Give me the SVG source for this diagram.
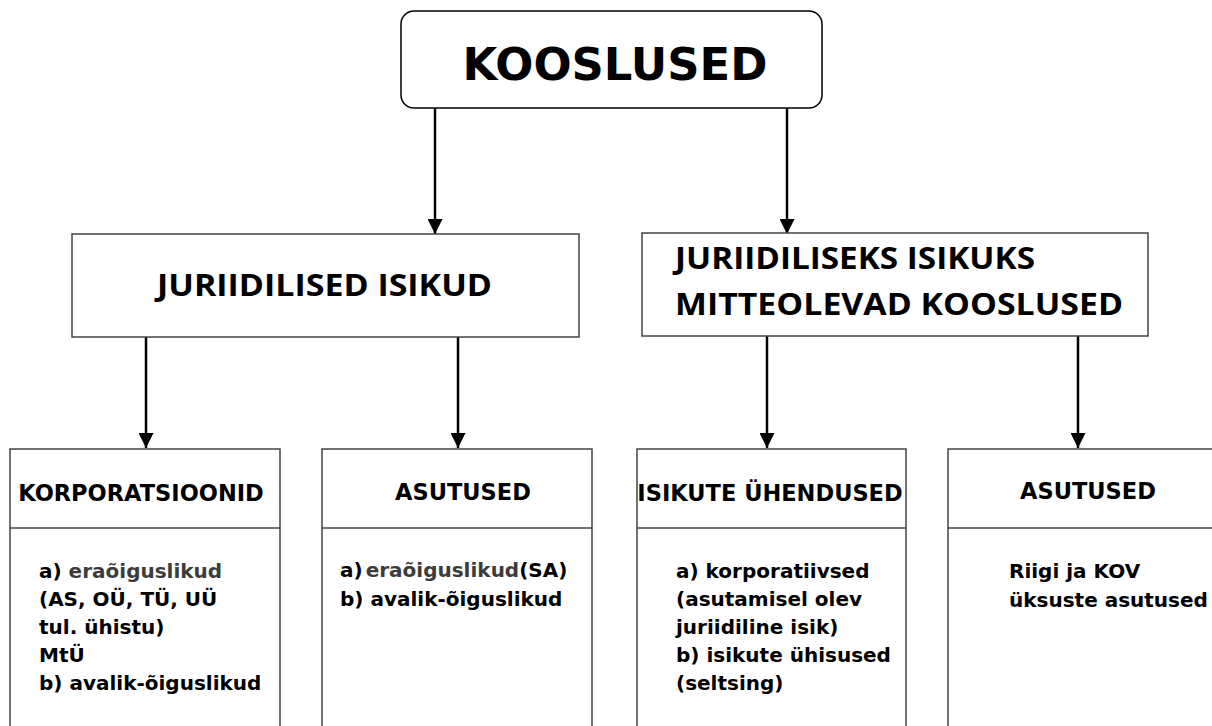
<svg xmlns="http://www.w3.org/2000/svg" width="1212" height="726" viewBox="0 0 1212 726">
<style>
.box{fill:#fff;stroke:#444;stroke-width:1.5}
.conn{stroke:#000;stroke-width:2.5;fill:none;marker-end:url(#arr)}
.h1{font-family:"DejaVu Sans",sans-serif;font-weight:bold;font-size:45px;fill:#000;text-anchor:middle}
.h2{font-family:"Open Sans","DejaVu Sans",sans-serif;font-weight:bold;font-size:31px;fill:#000}
.h3{font-family:"DejaVu Sans",sans-serif;font-weight:bold;font-size:22.5px;fill:#000;text-anchor:middle}
.body{font-family:"DejaVu Sans",sans-serif;font-weight:bold;font-size:20px;fill:#000}
.gray{fill:#3c3c3c}
</style>
<defs>
<marker id="arr" markerUnits="userSpaceOnUse" markerWidth="15" markerHeight="15" refX="15" refY="7.5" orient="auto">
<path d="M0,0 L15,7.5 L0,15 z" fill="#000"/>
</marker>
</defs>
<rect width="1212" height="726" fill="#fff"/>
<g id="connectors">
<line class="conn" x1="435" y1="108" x2="435" y2="234"/>
<line class="conn" x1="787" y1="108" x2="787" y2="234"/>
<line class="conn" x1="146" y1="337" x2="146" y2="448"/>
<line class="conn" x1="458" y1="337" x2="458" y2="448"/>
<line class="conn" x1="767" y1="336" x2="767" y2="448"/>
<line class="conn" x1="1078" y1="336" x2="1078" y2="448"/>
</g>
<g id="kooslused">
<rect x="401" y="11" width="421" height="97" rx="13" ry="13" fill="#fff" stroke="#000" stroke-width="1.5"/>
<text class="h1" x="615" y="80" textLength="305" lengthAdjust="spacingAndGlyphs">KOOSLUSED</text>
</g>
<g id="juriidilised">
<rect class="box" x="72" y="234" width="507" height="103"/>
<text class="h2" x="157" y="296" textLength="335" lengthAdjust="spacingAndGlyphs">JURIIDILISED ISIKUD</text>
</g>
<g id="mitteolevad">
<rect class="box" x="642" y="233" width="506" height="103"/>
<text class="h2" x="675" y="269" textLength="360" lengthAdjust="spacingAndGlyphs">JURIIDILISEKS ISIKUKS</text>
<text class="h2" x="675" y="315" textLength="448" lengthAdjust="spacingAndGlyphs">MITTEOLEVAD KOOSLUSED</text>
</g>
<g id="korporatsioonid">
<rect class="box" x="10" y="449" width="270" height="290"/>
<line x1="10" y1="528" x2="280" y2="528" stroke="#444" stroke-width="1.5"/>
<text class="h3" x="141" y="501">KORPORATSIOONID</text>
<text class="body" x="39" y="578">a) <tspan class="gray">eraõiguslikud</tspan></text>
<text class="body" x="39" y="606">(AS, OÜ, TÜ, UÜ</text>
<text class="body" x="39" y="634">tul. ühistu)</text>
<text class="body" x="39" y="662">MtÜ</text>
<text class="body" x="39" y="690">b) avalik-õiguslikud</text>
</g>
<g id="asutused1">
<rect class="box" x="322" y="449" width="270" height="290"/>
<line x1="322" y1="528" x2="592" y2="528" stroke="#444" stroke-width="1.5"/>
<text class="h3" x="463" y="500">ASUTUSED</text>
<text class="body" x="340" y="577">a)<tspan class="gray" dx="3">eraõiguslikud</tspan>(SA)</text>
<text class="body" x="340" y="606">b) avalik-õiguslikud</text>
</g>
<g id="isikute-uhendused">
<rect class="box" x="637" y="449" width="269" height="290"/>
<line x1="637" y1="528" x2="906" y2="528" stroke="#444" stroke-width="1.5"/>
<text class="h3" x="770" y="501">ISIKUTE ÜHENDUSED</text>
<text class="body" x="676" y="578">a) korporatiivsed</text>
<text class="body" x="676" y="606">(asutamisel olev</text>
<text class="body" x="676" y="634">juriidiline isik)</text>
<text class="body" x="676" y="662">b) isikute ühisused</text>
<text class="body" x="676" y="690">(seltsing)</text>
</g>
<g id="asutused2">
<rect class="box" x="948" y="449" width="270" height="290"/>
<line x1="948" y1="528" x2="1218" y2="528" stroke="#444" stroke-width="1.5"/>
<text class="h3" x="1088" y="499">ASUTUSED</text>
<text class="body" x="1009" y="578">Riigi ja KOV</text>
<text class="body" x="1009" y="607">üksuste asutused</text>
</g>
</svg>
